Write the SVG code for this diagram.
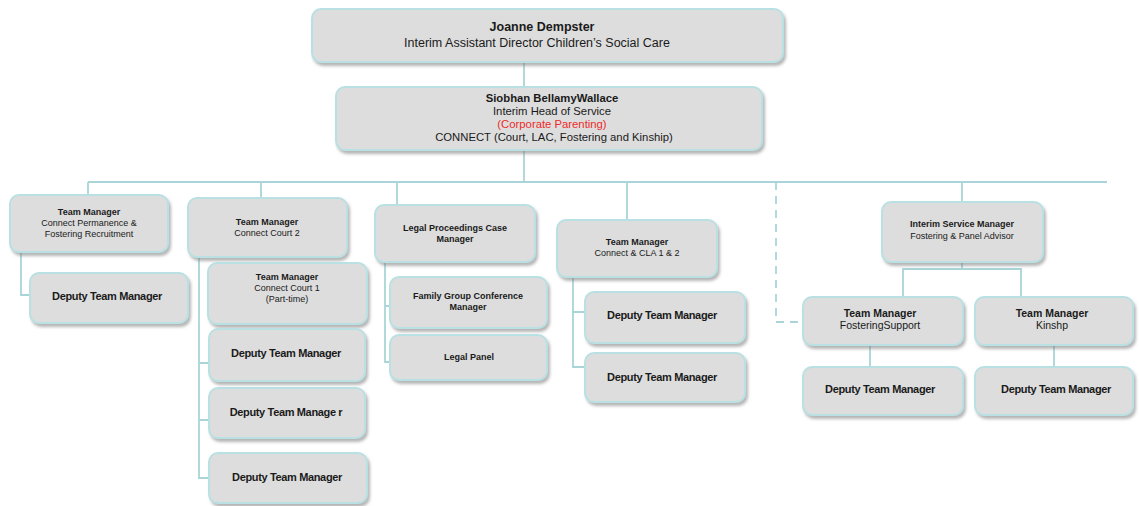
<svg xmlns="http://www.w3.org/2000/svg" width="1139" height="506" viewBox="0 0 1139 506">
<defs>
<filter id="sh" x="-10%" y="-20%" width="125%" height="150%">
<feDropShadow dx="2" dy="3" stdDeviation="1.8" flood-color="#7a7a7a" flood-opacity="0.55"/>
</filter>
<style>
.box{fill:#dddddd;stroke:#b9e0e3;stroke-width:2;filter:url(#sh)}
.ln{fill:none;stroke:#a9d5d9;stroke-width:1.8}
.dash{fill:none;stroke:#a9d5d9;stroke-width:1.8;stroke-dasharray:8,6}
text{font-family:"Liberation Sans",Arial,sans-serif;fill:#1a1a1a;text-anchor:middle}
.b{font-weight:bold}
.s9{font-size:9px}
.s11h{font-size:11.3px}
.s105{font-size:10.5px}
.d{font-size:11px;font-weight:bold;letter-spacing:-0.35px}
.s12{font-size:12.5px}
.red{fill:#ee2a2a}
</style>
</defs>
<rect width="1139" height="506" fill="#ffffff"/>
<g id="connectors">
<line class="ln" x1="524" y1="62" x2="524" y2="88"/>
<line class="ln" x1="524" y1="150" x2="524" y2="182"/>
<line class="ln" x1="88" y1="182" x2="1107" y2="182"/>
<line class="ln" x1="88" y1="182" x2="88" y2="195"/>
<line class="ln" x1="261" y1="182" x2="261" y2="198"/>
<line class="ln" x1="397" y1="182" x2="397" y2="205"/>
<line class="ln" x1="627" y1="182" x2="627" y2="220"/>
<line class="ln" x1="962" y1="182" x2="962" y2="202"/>
<path class="dash" d="M776,182 V322 H803"/>
<path class="ln" d="M21,252 V295 H30"/>
<path class="ln" d="M199,257 V478 H209 M199,363 H209 M199,420 H209"/>
<path class="ln" d="M385,262 V362 H390 M385,306 H390"/>
<path class="ln" d="M573,277 V367 H585 M573,312 H585"/>
<path class="ln" d="M962,262 V269 M903,297 V269 H1021 V297"/>
<line class="ln" x1="870" y1="345" x2="870" y2="367"/>
<line class="ln" x1="1054" y1="345" x2="1054" y2="367"/>
</g>
<g id="n-joanne">
<rect class="box" x="312" y="9" width="471" height="53" rx="9"/>
<text class="b s12" x="542" y="31">Joanne Dempster</text>
<text class="s12" x="537" y="47">Interim Assistant Director Children’s Social Care</text>
</g>
<g id="n-siobhan">
<rect class="box" x="336" y="87" width="426" height="63" rx="9"/>
<text class="b s11h" x="552" y="102">Siobhan BellamyWallace</text>
<text class="s11h" x="552" y="115">Interim Head of Service</text>
<text class="s11h red" x="552" y="128">(Corporate Parenting)</text>
<text class="s11h" x="554" y="141">CONNECT (Court, LAC, Fostering and Kinship)</text>
</g>
<g id="n-permanence">
<rect class="box" x="10" y="195" width="158" height="57" rx="9"/>
<text class="b s9" x="89" y="215">Team Manager</text>
<text class="s9" x="89" y="226">Connect Permanence &amp;</text>
<text class="s9" x="89" y="237">Fostering Recruitment</text>
</g>
<g id="n-deputy-perm">
<rect class="box" x="30" y="273" width="158" height="50" rx="9"/>
<text class="d" x="107" y="300">Deputy Team Manager</text>
</g>
<g id="n-court2">
<rect class="box" x="188" y="198" width="159" height="59" rx="9"/>
<text class="b s9" x="267" y="225">Team Manager</text>
<text class="s9" x="267" y="236">Connect Court 2</text>
</g>
<g id="n-court1">
<rect class="box" x="208" y="263" width="159" height="61" rx="9"/>
<text class="b s9" x="287" y="280">Team Manager</text>
<text class="s9" x="287" y="291">Connect Court 1</text>
<text class="s9" x="287" y="302">(Part-time)</text>
</g>
<g id="n-deputy-c1">
<rect class="box" x="209" y="329" width="156" height="52" rx="9"/>
<text class="d" x="286" y="357">Deputy Team Manager</text>
</g>
<g id="n-deputy-c2">
<rect class="box" x="209" y="388" width="156" height="50" rx="9"/>
<text class="d" x="286" y="416">Deputy Team Manage r</text>
</g>
<g id="n-deputy-c3">
<rect class="box" x="209" y="453" width="158" height="50" rx="9"/>
<text class="d" x="287" y="481">Deputy Team Manager</text>
</g>
<g id="n-legal">
<rect class="box" x="375" y="205" width="160" height="57" rx="9"/>
<text class="b s9" x="455" y="231">Legal Proceedings Case</text>
<text class="b s9" x="455" y="242">Manager</text>
</g>
<g id="n-fgc">
<rect class="box" x="390" y="277" width="157" height="51" rx="9"/>
<text class="b s9" x="468" y="299">Family Group Conference</text>
<text class="b s9" x="468" y="310">Manager</text>
</g>
<g id="n-legalpanel">
<rect class="box" x="390" y="335" width="157" height="45" rx="9"/>
<text class="b s9" x="469" y="360">Legal Panel</text>
</g>
<g id="n-cla">
<rect class="box" x="557" y="220" width="160" height="57" rx="9"/>
<text class="b s9" x="637" y="245">Team Manager</text>
<text class="s9" x="637" y="256">Connect &amp; CLA 1 &amp; 2</text>
</g>
<g id="n-deputy-cla1">
<rect class="box" x="585" y="292" width="160" height="51" rx="9"/>
<text class="d" x="662" y="319">Deputy Team Manager</text>
</g>
<g id="n-deputy-cla2">
<rect class="box" x="585" y="353" width="160" height="49" rx="9"/>
<text class="d" x="662" y="381">Deputy Team Manager</text>
</g>
<g id="n-ism">
<rect class="box" x="882" y="202" width="161" height="60" rx="9"/>
<text class="b s9" x="962" y="227">Interim Service Manager</text>
<text class="s9" x="962" y="239">Fostering &amp; Panel Advisor</text>
</g>
<g id="n-fostering">
<rect class="box" x="803" y="297" width="160" height="48" rx="9"/>
<text class="b s105" x="880" y="317">Team Manager</text>
<text class="s105" x="880" y="329">FosteringSupport</text>
</g>
<g id="n-kinship">
<rect class="box" x="975" y="297" width="158" height="48" rx="9"/>
<text class="b s105" x="1052" y="317">Team Manager</text>
<text class="s105" x="1052" y="329">Kinshp</text>
</g>
<g id="n-deputy-fs">
<rect class="box" x="803" y="367" width="160" height="48" rx="9"/>
<text class="d" x="880" y="393">Deputy Team Manager</text>
</g>
<g id="n-deputy-kin">
<rect class="box" x="975" y="367" width="158" height="48" rx="9"/>
<text class="d" x="1056" y="393">Deputy Team Manager</text>
</g>
</svg>
